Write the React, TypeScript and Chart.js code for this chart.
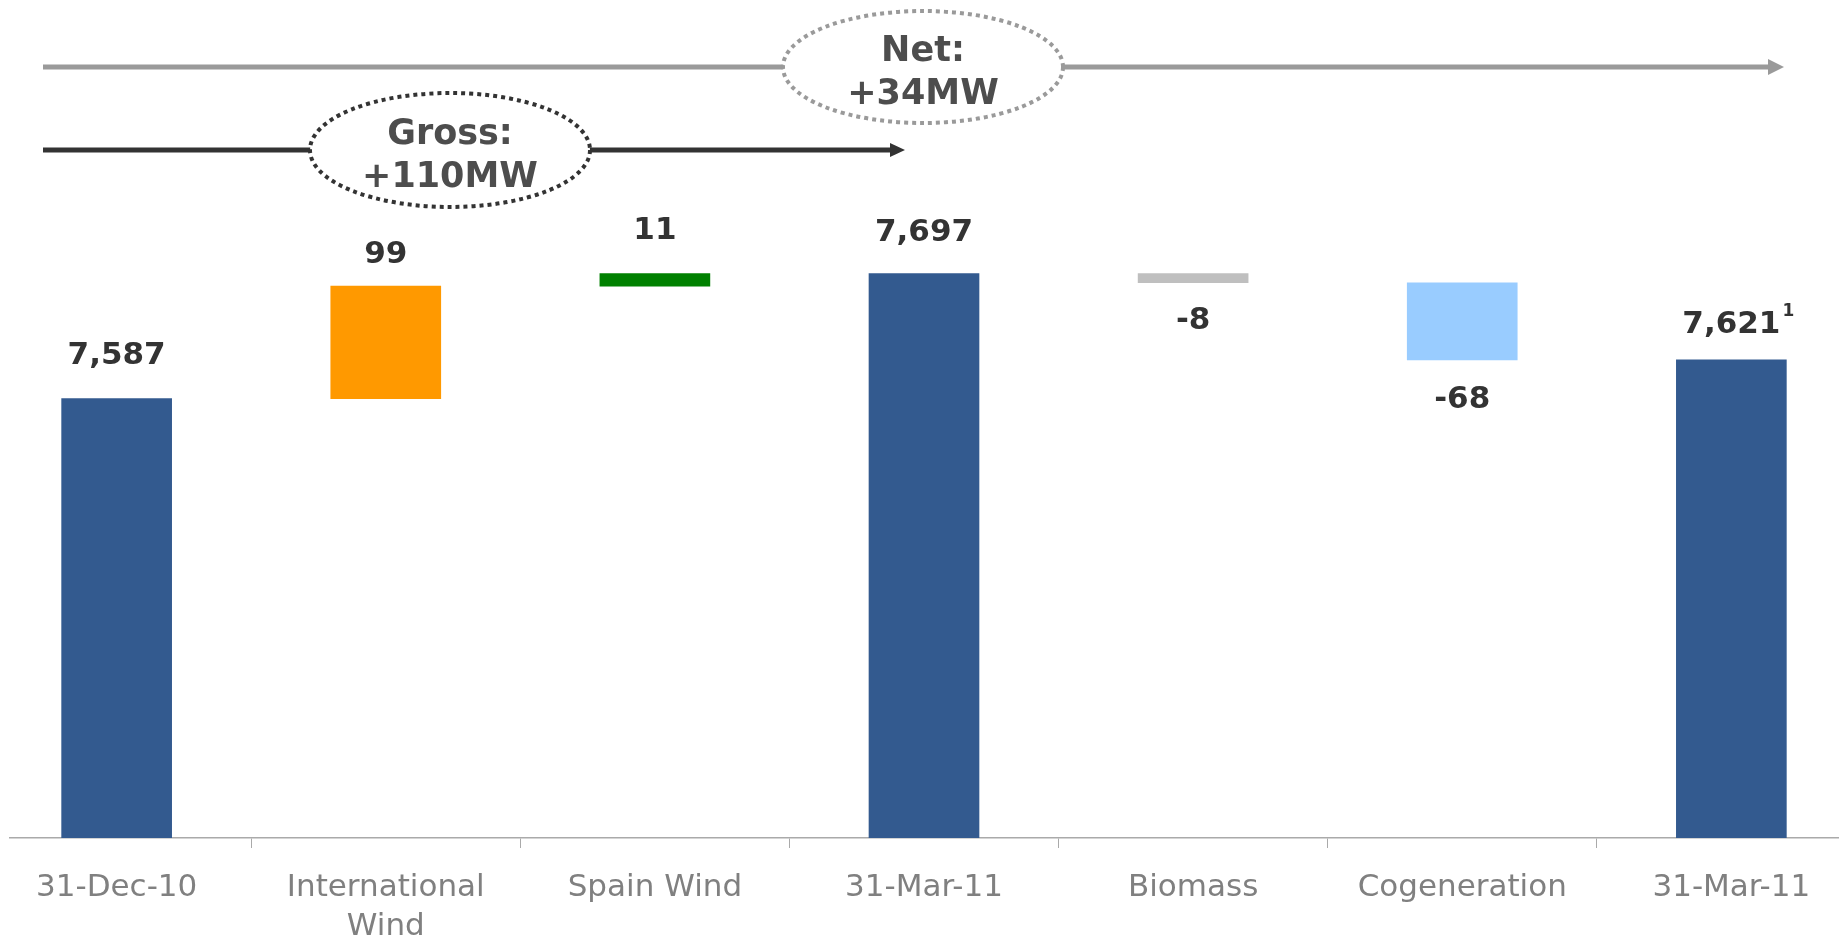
import React, { useEffect, useRef } from 'react';
import { Chart, registerables } from 'chart.js';

Chart.register(...registerables);

// ---- data ----
const categories: string[][] = [
  ['31-Dec-10'],
  ['International', 'Wind'],
  ['Spain Wind'],
  ['31-Mar-11'],
  ['Biomass'],
  ['Cogeneration'],
  ['31-Mar-11'],
];
const values: number[] = [7587, 99, 11, 7697, -8, -68, 7621];
const kinds: string[] = ['total', 'delta', 'delta', 'total', 'delta', 'delta', 'total'];
const valueLabels: string[] = ['7,587', '99', '11', '7,697', '-8', '-68', '7,621'];
const footnoteMarks: string[] = ['', '', '', '', '', '', '1'];
const grossLabel: string[] = ['Gross:', '+110MW'];
const netLabel: string[] = ['Net:', '+34MW'];

// ---- styles ----
const barColors = ['#335A8F', '#FF9900', '#008000', '#335A8F', '#BFBFBF', '#99CCFF', '#335A8F'];
const labelGap = [35, 23, 35, 33, 46, 48, 27];
const Y_MIN = 7200;
const Y_MAX = 7938;
const CANVAS_LEFT = 9;
const CANVAS_W = 1830;
const CANVAS_H = 940;
const FONT = "'DejaVu Sans', Verdana, sans-serif";

function buildRanges(): number[][] {
  let running = 0;
  return values.map((v, i) => {
    if (kinds[i] === 'total') {
      running = v;
      return [Y_MIN, v];
    }
    const start = running;
    running += v;
    return [start, running];
  });
}

function drawArrow(ctx: any, x1: number, x2: number, y: number, color: string, lw: number, headLen: number, headHalf: number) {
  ctx.save();
  ctx.setLineDash([]);
  ctx.strokeStyle = color;
  ctx.lineWidth = lw;
  ctx.beginPath();
  ctx.moveTo(x1, y);
  ctx.lineTo(x2 - headLen + 1, y);
  ctx.stroke();
  ctx.fillStyle = color;
  ctx.beginPath();
  ctx.moveTo(x2, y);
  ctx.lineTo(x2 - headLen, y - headHalf);
  ctx.lineTo(x2 - headLen, y + headHalf);
  ctx.closePath();
  ctx.fill();
  ctx.restore();
}

function drawBubble(ctx: any, cx: number, cy: number, rx: number, ry: number, stroke: string, lines: string[]) {
  ctx.save();
  ctx.beginPath();
  ctx.ellipse(cx, cy, rx, ry, 0, 0, Math.PI * 2);
  ctx.fillStyle = '#ffffff';
  ctx.fill();
  ctx.setLineDash([4, 4]);
  ctx.lineWidth = 4;
  ctx.strokeStyle = stroke;
  ctx.stroke();
  ctx.setLineDash([]);
  ctx.fillStyle = '#4d4d4d';
  ctx.font = `bold 35px ${FONT}`;
  ctx.textAlign = 'center';
  ctx.textBaseline = 'alphabetic';
  ctx.fillText(lines[0], cx, cy - 6);
  ctx.fillText(lines[1], cx, cy + 37);
  ctx.restore();
}

const annotationPlugin = {
  id: 'waterfallAnnotations',
  afterDatasetsDraw(chart: any) {
    const ctx = chart.ctx;
    const meta = chart.getDatasetMeta(0);
    // value labels
    ctx.save();
    ctx.fillStyle = '#333333';
    ctx.textAlign = 'center';
    ctx.textBaseline = 'alphabetic';
    meta.data.forEach((el: any, i: number) => {
      const top = Math.min(el.y, el.base);
      const bottom = Math.max(el.y, el.base);
      const below = values[i] < 0;
      const y = below ? bottom + labelGap[i] : top - labelGap[i];
      ctx.font = `bold 31px ${FONT}`;
      ctx.fillText(valueLabels[i], el.x, y);
      if (footnoteMarks[i]) {
        const w = ctx.measureText(valueLabels[i]).width;
        ctx.font = `bold 17px ${FONT}`;
        ctx.textAlign = 'left';
        ctx.fillText(footnoteMarks[i], el.x + w / 2 + 2, y - 17);
        ctx.textAlign = 'center';
      }
    });
    ctx.restore();

    // arrows and bubbles (page coords -> canvas coords)
    const px = (x: number) => x - CANVAS_LEFT;
    drawArrow(ctx, px(43), px(1784), 67, '#9a9a9a', 5, 16, 8);
    drawArrow(ctx, px(43), px(905), 150, '#333333', 5, 15, 7);
    drawBubble(ctx, px(450), 150, 140, 57, '#333333', grossLabel);
    drawBubble(ctx, px(923), 67, 140, 56, '#9a9a9a', netLabel);
  },
};

export default function App() {
  const ref = useRef<HTMLCanvasElement | null>(null);

  useEffect(() => {
    if (!ref.current) return;
    const ranges = buildRanges();
    const chart = new Chart(ref.current, {
      type: 'bar',
      data: {
        datasets: [
          {
            data: ranges.map((r, i) => ({ x: i, y: r })) as any,
            backgroundColor: barColors,
            borderWidth: 0,
            barThickness: 110,
          },
        ],
      },
      options: {
        animation: false,
        responsive: false,
        events: [],
        layout: { padding: 0 },
        plugins: {
          legend: { display: false },
          tooltip: { enabled: false },
        },
        scales: {
          x: {
            type: 'linear',
            offset: false,
            min: -0.4,
            max: 6.4,
            afterBuildTicks: (scale: any) => {
              scale.ticks = categories.map((_, i) => ({ value: i }));
            },
            afterFit: (scale: any) => {
              scale.height = 102;
            },
            ticks: {
              autoSkip: false,
              maxRotation: 0,
              minRotation: 0,
              padding: 20,
              color: '#808080',
              font: { family: FONT, size: 31, lineHeight: 1.27 },
              callback: (value: any) => categories[Math.round(Number(value))] ?? '',
            },
            grid: {
              display: true,
              offset: true,
              drawOnChartArea: false,
              drawTicks: true,
              tickLength: 10,
              color: '#aaaaaa',
              lineWidth: 1,
            },
            border: { display: true, color: '#aaaaaa', width: 1.5 },
          },
          y: {
            display: false,
            min: Y_MIN,
            max: Y_MAX,
          },
        },
      },
      plugins: [annotationPlugin],
    } as any);
    return () => chart.destroy();
  }, []);

  return (
    <div
      style={{
        position: 'fixed',
        left: 0,
        top: 0,
        width: 1839,
        height: 940,
        overflow: 'hidden',
        background: '#ffffff',
      }}
    >
      <canvas
        ref={ref}
        width={CANVAS_W}
        height={CANVAS_H}
        style={{ position: 'absolute', left: CANVAS_LEFT, top: 0, width: CANVAS_W, height: CANVAS_H }}
      />
    </div>
  );
}
